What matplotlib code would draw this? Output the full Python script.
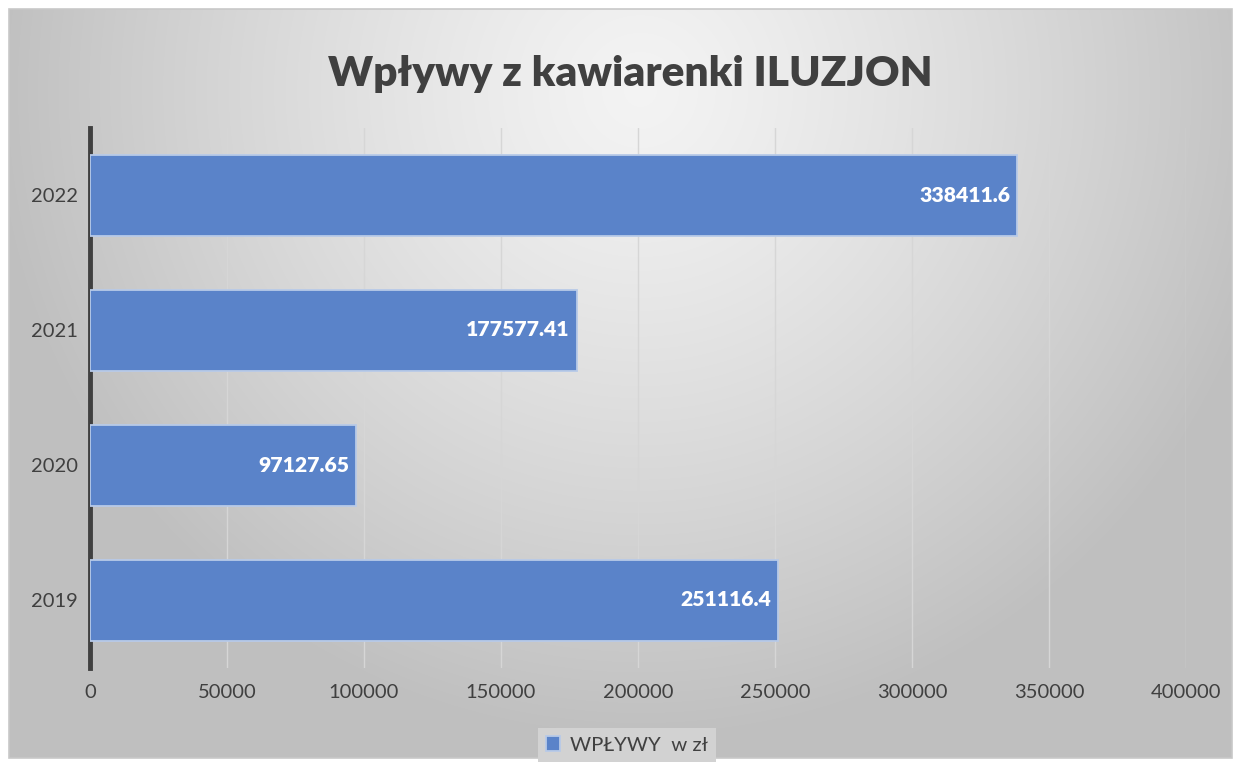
import numpy as np
import matplotlib.pyplot as plt
from matplotlib.patches import Rectangle

years = ["2019", "2020", "2021", "2022"]
values = [251116.4, 97127.65, 177577.41, 338411.6]
labels = ["251116.4", "97127.65", "177577.41", "338411.6"]
xticks = [0, 50000, 100000, 150000, 200000, 250000, 300000, 350000, 400000]
title = "Wpływy z kawiarenki ILUZJON"
legend_label = "WPŁYWY  w zł"

W, H = 1236, 762
plt.rcParams['font.family'] = ['Lato', 'DejaVu Sans']
fig = plt.figure(figsize=(W / 100, H / 100), dpi=100)
fig.patch.set_facecolor('white')

# chart area background with radial gradient
cx0, cy0, cx1, cy1 = 9, 9, 1232, 758
bg = fig.add_axes([cx0 / W, 1 - cy1 / H, (cx1 - cx0) / W, (cy1 - cy0) / H])
yy, xx = np.mgrid[cy0:cy1, cx0:cx1]
r = np.sqrt((xx - 640.0) ** 2 + ((yy - 90.0) * 1.0) ** 2)
t = np.clip(r / 650.0, 0, 1)
lum = 0.955 - (0.955 - 0.75) * t ** 1.25
img = np.dstack([lum, lum, lum])
bg.imshow(img, aspect='auto', extent=[0, 1, 0, 1], origin='upper', interpolation='bilinear')
bg.set_xlim(0, 1)
bg.set_ylim(0, 1)
bg.axis('off')
fig.add_artist(Rectangle((cx0 / W, 1 - cy1 / H), (cx1 - cx0) / W, (cy1 - cy0) / H,
                         transform=fig.transFigure, fill=False, edgecolor='#c8c8c8', lw=1.2))

# main axes
left, right, top, bottom = 90, 1186, 127.5, 667.5
ax = fig.add_axes([left / W, 1 - bottom / H, (right - left) / W, (bottom - top) / H])
ax.patch.set_alpha(0)
y = np.arange(len(years))
bars = ax.barh(y, values, height=0.6, color='#5A83C9', edgecolor='#B8CAE8', linewidth=1.3, zorder=3)
ax.set_xlim(0, 400000)
ax.set_ylim(-0.5, len(years) - 0.5)
ax.set_yticks(y)
ax.set_yticklabels(years)
ax.set_xticks(xticks)
ax.set_xticklabels([str(v) for v in xticks])
ax.tick_params(length=0, labelsize=14.5, labelcolor='#404040')
ax.tick_params(axis='x', pad=12)
ax.tick_params(axis='y', pad=9)
ax.grid(axis='x', color='#d6d6d6', lw=1.0, zorder=0)
for s in ['top', 'right', 'bottom']:
    ax.spines[s].set_visible(False)
ax.spines['left'].set_color('#404040')
ax.spines['left'].set_linewidth(3.5)
ax.spines['left'].set_zorder(2)

for b, lab in zip(bars, labels):
    ax.annotate(lab, (b.get_width(), b.get_y() + b.get_height() / 2), xytext=(-5, 0),
                textcoords='offset points', ha='right', va='center', color='white',
                fontsize=15.2, fontweight='heavy', zorder=5)

fig.text(630 / W, 1 - 74 / H, title, ha='center', va='center', fontsize=30.5,
         fontweight='heavy', color='#404040')

leg = fig.legend([bars], [legend_label], loc='center', bbox_to_anchor=(627 / W, 1 - 745 / H),
                 frameon=True, fontsize=14.7, handlelength=0.7, handleheight=0.7,
                 handletextpad=0.5, borderpad=0.4, fancybox=False)
leg.get_frame().set_facecolor('#d2d2d2')
leg.get_frame().set_edgecolor('none')
leg.get_frame().set_alpha(1)
for tx in leg.get_texts():
    tx.set_color('#404040')

fig.savefig('out.png', dpi=100)
